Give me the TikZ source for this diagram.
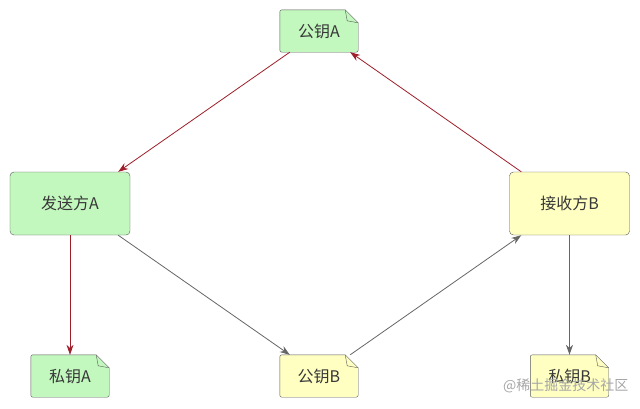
\documentclass[tikz,border=0pt]{standalone}
\usepackage{fontspec}
\setmainfont{Noto Sans CJK SC}
\usetikzlibrary{arrows.meta}

\definecolor{keygreen}{HTML}{C2F7BE}
\definecolor{keyyellow}{HTML}{FFFFC2}
\definecolor{edgered}{HTML}{9E1E2A}
\definecolor{edgegray}{HTML}{666666}
\definecolor{boxline}{HTML}{5A5A5A}

\tikzset{
    party/.style={draw=boxline, rounded corners=4pt, minimum width=120pt, minimum height=63pt, font=\fontsize{16}{18}\selectfont, text=black!78},
    keynote/.style={minimum width=78pt, minimum height=42pt, inner sep=0pt, font=\fontsize{16}{18}\selectfont, text=black!78},
    redline/.style={draw=edgered, line width=0.8pt, -{Stealth[length=10pt,width=7pt]}},
    grayline/.style={draw=edgegray, line width=0.8pt, -{Stealth[length=10pt,width=7pt]}}
}

% note with folded corner: name, position, text, colour
\newcommand{\keypaper}[4]{
    \node[keynote] (#1) at #2 {};
    \draw[boxline, fill=#4] (#1.north west) -- ([xshift=-13pt]#1.north east) -- ([yshift=-13pt]#1.north east) [rounded corners=2pt] -- (#1.south east) -- (#1.south west) -- cycle;
    \draw[boxline] ([xshift=-13pt]#1.north east) -- ([xshift=-11pt,yshift=-11pt]#1.north east) -- ([yshift=-13pt]#1.north east);
    \node[keynote] at (#1) {#3};
}

\begin{document}
\begin{tikzpicture}[x=1pt, y=-1pt]
    \useasboundingbox (0,0) rectangle (640,408);

    \node[party, fill=keygreen] (sender) at (70,203.5) {发送方A};
    \node[party, fill=keyyellow] (receiver) at (569.5,203.5) {接收方B};

    \keypaper{pubA}{(319,31)}{公钥A}{keygreen}
    \keypaper{privA}{(70,376)}{私钥A}{keygreen}
    \keypaper{pubB}{(319,376)}{公钥B}{keyyellow}
    \keypaper{privB}{(569.5,376)}{私钥B}{keyyellow}

    \draw[redline] ([xshift=10pt]pubA.south west) -- ([xshift=-12pt]sender.north east);
    \draw[redline] ([xshift=12pt]receiver.north west) -- ([xshift=-8pt]pubA.south east);
    \draw[redline] (sender.south) -- (privA.north);
    \draw[grayline] ([xshift=-12pt]sender.south east) -- ([xshift=10pt]pubB.north west);
    \draw[grayline] ([xshift=-8pt]pubB.north east) -- ([xshift=12pt]receiver.south west);
    \draw[grayline] (receiver.south) -- (privB.north);

    % watermark
    \node[text=black!35, font=\fontsize{14}{16}\selectfont, anchor=east] (mark) at (632,386) {@稀土掘金技术社区};
\end{tikzpicture}
\end{document}
